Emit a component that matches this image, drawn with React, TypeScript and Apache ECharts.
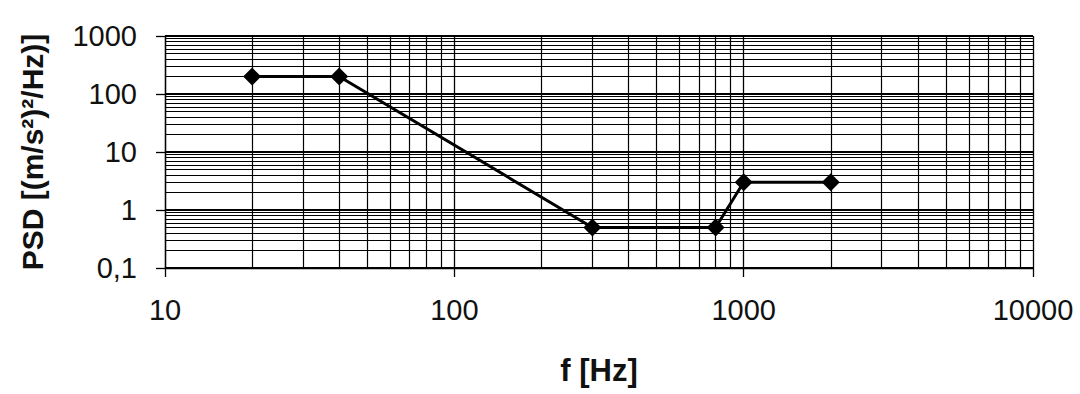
import React, { useEffect, useRef } from "react";
import * as echarts from "echarts";

const freqHz = [20, 40, 300, 800, 1000, 2000];
const psdValues = [200, 200, 0.5, 0.5, 3, 3];
const xMinorGrid = [20, 30, 40, 50, 60, 70, 80, 90, 200, 300, 400, 500, 600, 700, 800, 900, 2000, 3000, 4000, 5000, 6000, 7000, 8000, 9000];
const yMinorGrid = [0.2, 0.3, 0.4, 0.5, 0.6, 0.7, 0.8, 0.9, 2, 3, 4, 5, 6, 7, 8, 9, 20, 30, 40, 50, 60, 70, 80, 90, 200, 300, 400, 500, 600, 700, 800, 900];

const FONT = "'Liberation Sans', Arial, sans-serif";

const fmt = (v: number) => String(Number(v.toPrecision(6))).replace(".", ",");

export default function App() {
  const ref = useRef<HTMLDivElement>(null);
  useEffect(() => {
    document.body.style.margin = "0";
    if (!ref.current) return;
    const chart = echarts.init(ref.current, null, { renderer: "svg" });
    const points = freqHz.map((f, i) => [f, psdValues[i]]);
    const gridLines = [
      ...xMinorGrid.map((v) => ({ xAxis: v })),
      ...yMinorGrid.map((v) => ({ yAxis: v })),
    ];
    chart.setOption({
      animation: false,
      backgroundColor: "#ffffff",
      grid: { left: 165, right: 47, top: 36, bottom: 126, containLabel: false },
      xAxis: {
        type: "log",
        logBase: 10,
        min: 10,
        max: 10000,
        name: "f [Hz]",
        nameLocation: "middle",
        nameGap: 87,
        nameTextStyle: { fontFamily: FONT, fontSize: 31, fontWeight: "bold", color: "#111" },
        axisLine: { show: true, lineStyle: { color: "#000", width: 1.3 } },
        axisTick: { show: true, inside: false, length: 9, lineStyle: { color: "#000", width: 1.3 } },
        axisLabel: { fontFamily: FONT, fontSize: 29, color: "#111", margin: 27, formatter: fmt },
        splitLine: { show: true, lineStyle: { color: "#000", width: 1.3 } },
      },
      yAxis: {
        type: "log",
        logBase: 10,
        min: 0.1,
        max: 1000,
        name: "PSD [(m/s²)²/Hz)]",
        nameLocation: "middle",
        nameGap: 118,
        nameTextStyle: { fontFamily: FONT, fontSize: 30, fontWeight: "bold", color: "#111" },
        axisLine: { show: true, lineStyle: { color: "#000", width: 1.3 } },
        axisTick: { show: true, inside: false, length: 9, lineStyle: { color: "#000", width: 1.3 } },
        axisLabel: { fontFamily: FONT, fontSize: 29, color: "#111", margin: 28, formatter: fmt },
        splitLine: { show: true, lineStyle: { color: "#000", width: 1.8 } },
      },
      series: [
        {
          type: "line",
          z: 1,
          data: points,
          symbol: "none",
          lineStyle: { opacity: 0 },
          silent: true,
          markLine: {
            silent: true,
            symbol: ["none", "none"],
            label: { show: false },
            lineStyle: { color: "#000", width: 1.2, type: "solid" },
            data: gridLines,
          },
        },
        {
          type: "line",
          z: 5,
          data: points,
          symbol: "diamond",
          symbolSize: [18, 18],
          itemStyle: { color: "#000" },
          lineStyle: { color: "#000", width: 3 },
        },
      ],
    });
    return () => chart.dispose();
  }, []);
  return <div ref={ref} style={{ width: 1080, height: 394 }} />;
}
